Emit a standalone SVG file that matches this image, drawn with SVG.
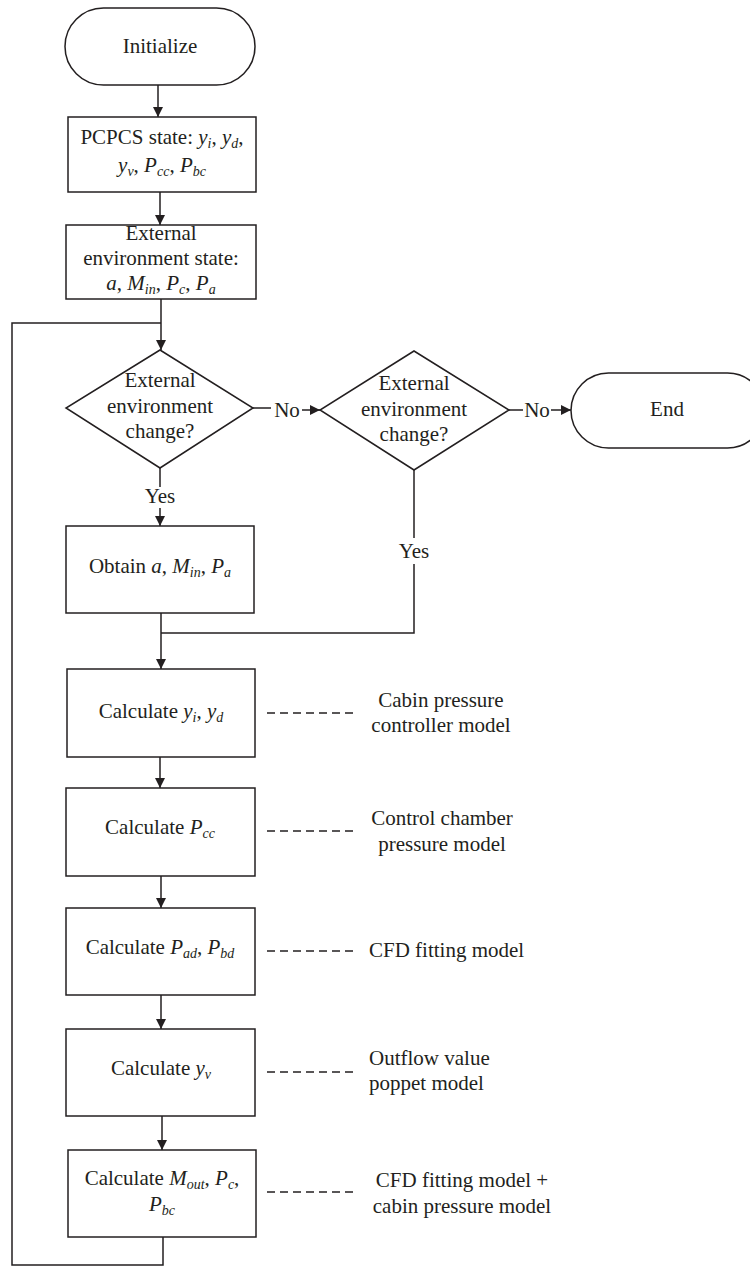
<svg xmlns="http://www.w3.org/2000/svg" width="750" height="1267" viewBox="0 0 750 1267">
<defs>
<marker id="ah" markerUnits="userSpaceOnUse" markerWidth="11" markerHeight="11" refX="10" refY="5" orient="auto">
<path d="M0,0 L10,5 L0,10 z" fill="#231f20"/>
</marker>
<style>
.n{fill:#fff;stroke:#231f20;stroke-width:1.5}
.c{fill:none;stroke:#231f20;stroke-width:1.5}
.a{marker-end:url(#ah)}
.d{fill:none;stroke:#231f20;stroke-width:1.3;stroke-dasharray:8 5}
text{font-family:"Liberation Serif","Times New Roman",serif;font-size:21px;fill:#231f20}
.m{text-anchor:middle}
.i{font-style:italic}
.s{font-style:italic;font-size:14px}
</style>
</defs>
<rect width="750" height="1267" fill="#fff"/>
<g id="connectors">
<line class="c a" x1="158" y1="85" x2="158" y2="117"/>
<line class="c a" x1="160" y1="192" x2="160" y2="225"/>
<line class="c a" x1="161" y1="299" x2="161" y2="350"/>
<polyline class="c" points="163,1237 163,1265 12,1265 12,323 161,323"/>
<line class="c" x1="253" y1="408" x2="271" y2="408"/>
<line class="c a" x1="302" y1="410" x2="320" y2="410"/>
<text class="m" x="287" y="417">No</text>
<line class="c" x1="509" y1="410" x2="523" y2="410"/>
<line class="c a" x1="551" y1="410" x2="571" y2="410"/>
<text class="m" x="537" y="417">No</text>
<line class="c" x1="160" y1="468" x2="160" y2="487"/>
<line class="c a" x1="160" y1="508" x2="160" y2="526"/>
<text class="m" x="160" y="503">Yes</text>
<line class="c" x1="414" y1="470" x2="414" y2="538"/>
<polyline class="c" points="414,564 414,633 161,633"/>
<text class="m" x="414" y="558">Yes</text>
<line class="c a" x1="161" y1="613" x2="161" y2="669"/>
<line class="c a" x1="160" y1="757" x2="160" y2="788"/>
<line class="c a" x1="161" y1="876" x2="161" y2="908"/>
<line class="c a" x1="161" y1="995" x2="161" y2="1029"/>
<line class="c a" x1="162" y1="1116" x2="162" y2="1150"/>
<line class="d" x1="267" y1="713" x2="356" y2="713"/>
<line class="d" x1="267" y1="831" x2="356" y2="831"/>
<line class="d" x1="267" y1="951" x2="356" y2="951"/>
<line class="d" x1="267" y1="1072" x2="356" y2="1072"/>
<line class="d" x1="267" y1="1192" x2="356" y2="1192"/>
</g>
<g id="initialize">
<rect class="n" x="65" y="8" width="190" height="77" rx="38.5"/>
<text class="m" x="160" y="53">Initialize</text>
</g>
<g id="pcpcs-state">
<rect class="n" x="68" y="117" width="188" height="75"/>
<text class="m" x="162" y="144">PCPCS state: <tspan class="i">y</tspan><tspan class="s" dy="4">i</tspan><tspan dy="-4">, </tspan><tspan class="i">y</tspan><tspan class="s" dy="4">d</tspan><tspan dy="-4">,</tspan></text>
<text class="m" x="162" y="172"><tspan class="i">y</tspan><tspan class="s" dy="4">v</tspan><tspan dy="-4">, </tspan><tspan class="i">P</tspan><tspan class="s" dy="4">cc</tspan><tspan dy="-4">, </tspan><tspan class="i">P</tspan><tspan class="s" dy="4">bc</tspan></text>
</g>
<g id="external-state">
<rect class="n" x="66" y="225" width="190" height="74"/>
<text class="m" x="161" y="240">External</text>
<text class="m" x="161" y="265">environment state:</text>
<text class="m" x="161" y="290"><tspan class="i">a</tspan>, <tspan class="i">M</tspan><tspan class="s" dy="4">in</tspan><tspan dy="-4">, </tspan><tspan class="i">P</tspan><tspan class="s" dy="4">c</tspan><tspan dy="-4">, </tspan><tspan class="i">P</tspan><tspan class="s" dy="4">a</tspan></text>
</g>
<g id="decision1">
<polygon class="n" points="160,350 253,408 160,468 66,408"/>
<text class="m" x="160" y="387">External</text>
<text class="m" x="160" y="413">environment</text>
<text class="m" x="160" y="438">change?</text>
</g>
<g id="decision2">
<polygon class="n" points="414,351 509,410 414,470 320,410"/>
<text class="m" x="414" y="390">External</text>
<text class="m" x="414" y="416">environment</text>
<text class="m" x="414" y="441">change?</text>
</g>
<g id="end">
<rect class="n" x="571" y="373" width="194" height="75" rx="37.5"/>
<text class="m" x="667" y="416">End</text>
</g>
<g id="obtain">
<rect class="n" x="66" y="526" width="188" height="87"/>
<text class="m" x="160" y="573">Obtain <tspan class="i">a</tspan>, <tspan class="i">M</tspan><tspan class="s" dy="4">in</tspan><tspan dy="-4">, </tspan><tspan class="i">P</tspan><tspan class="s" dy="4">a</tspan></text>
</g>
<g id="calc-yi-yd">
<rect class="n" x="67" y="669" width="188" height="88"/>
<text class="m" x="161" y="718">Calculate <tspan class="i">y</tspan><tspan class="s" dy="4">i</tspan><tspan dy="-4">, </tspan><tspan class="i">y</tspan><tspan class="s" dy="4">d</tspan></text>
</g>
<g id="label-controller">
<text class="m" x="441" y="707">Cabin pressure</text>
<text class="m" x="441" y="732">controller model</text>
</g>
<g id="calc-pcc">
<rect class="n" x="66" y="788" width="189" height="88"/>
<text class="m" x="160" y="834">Calculate <tspan class="i">P</tspan><tspan class="s" dy="4">cc</tspan></text>
</g>
<g id="label-chamber">
<text class="m" x="442" y="825">Control chamber</text>
<text class="m" x="442" y="851">pressure model</text>
</g>
<g id="calc-pad-pbd">
<rect class="n" x="66" y="908" width="189" height="87"/>
<text class="m" x="160" y="954">Calculate <tspan class="i">P</tspan><tspan class="s" dy="4">ad</tspan><tspan dy="-4">, </tspan><tspan class="i">P</tspan><tspan class="s" dy="4">bd</tspan></text>
</g>
<g id="label-cfd">
<text x="369" y="957">CFD fitting model</text>
</g>
<g id="calc-yv">
<rect class="n" x="66" y="1029" width="189" height="87"/>
<text class="m" x="161" y="1075">Calculate <tspan class="i">y</tspan><tspan class="s" dy="4">v</tspan></text>
</g>
<g id="label-poppet">
<text x="369" y="1065">Outflow value</text>
<text x="369" y="1090">poppet model</text>
</g>
<g id="calc-mout">
<rect class="n" x="68" y="1150" width="188" height="87"/>
<text class="m" x="162" y="1185">Calculate <tspan class="i">M</tspan><tspan class="s" dy="4">out</tspan><tspan dy="-4">, </tspan><tspan class="i">P</tspan><tspan class="s" dy="4">c</tspan><tspan dy="-4">,</tspan></text>
<text class="m" x="162" y="1211"><tspan class="i">P</tspan><tspan class="s" dy="4">bc</tspan></text>
</g>
<g id="label-cabin">
<text class="m" x="462" y="1187">CFD fitting model +</text>
<text class="m" x="462" y="1213">cabin pressure model</text>
</g>
</svg>
